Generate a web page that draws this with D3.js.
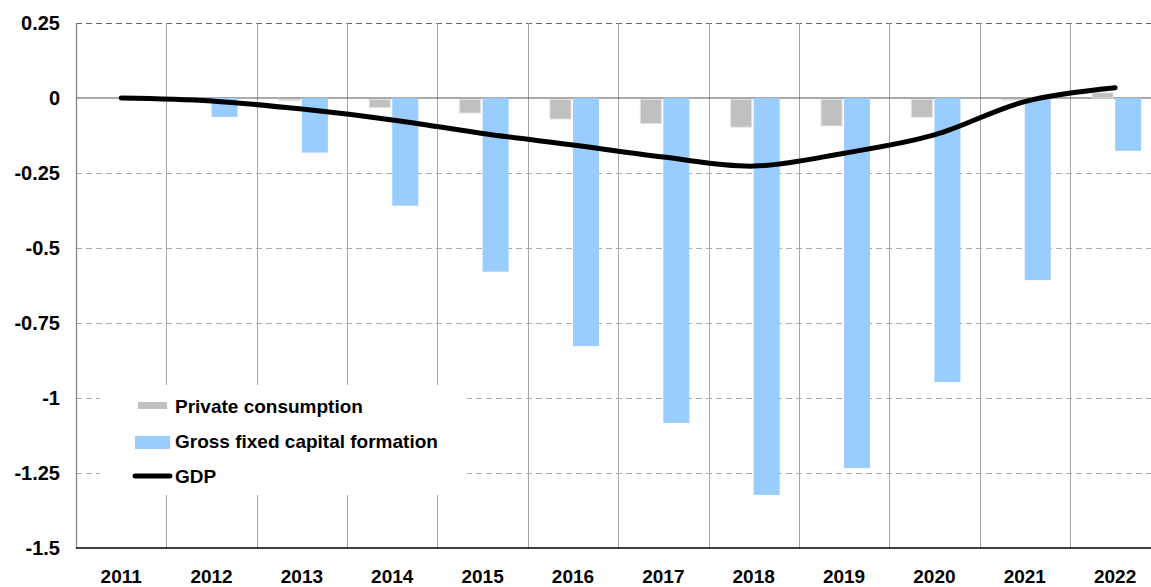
<!DOCTYPE html>
<html>
<head>
<meta charset="utf-8">
<script src="https://cdn.jsdelivr.net/npm/d3@7"></script>
<style>
  body { margin: 0; background: #fff; }
  svg { display: block; font-family: "Liberation Sans", Arial, sans-serif; font-weight: bold; }
</style>
</head>
<body>
<svg id="chart" width="1151" height="587"></svg>
<script>
// values
var years = ["2011", "2012", "2013", "2014", "2015", "2016", "2017", "2018", "2019", "2020", "2021", "2022"];
var privateCons = [0, -0.001, -0.004, -0.027, -0.045, -0.065, -0.08, -0.092, -0.088, -0.059, -0.002, 0.017];
var gfcf = [0, -0.063, -0.182, -0.359, -0.579, -0.827, -1.083, -1.323, -1.233, -0.947, -0.607, -0.176];
var gdp = [0, -0.01, -0.037, -0.073, -0.118, -0.157, -0.197, -0.227, -0.184, -0.123, -0.012, 0.034];
var yTicks = [0.25, 0, -0.25, -0.5, -0.75, -1, -1.25, -1.5];
var yTickLabels = ["0.25", "0", "-0.25", "-0.5", "-0.75", "-1", "-1.25", "-1.5"];

var svg = d3.select("#chart");
var plotLeft = 76, plotTop = 23, plotBottom = 548, plotRight = 1151;
var bw = 90.36;

var x = d3.scaleBand().domain(years).range([plotLeft, plotLeft + bw * years.length]).padding(0);
var y = d3.scaleLinear().domain([-1.5, 0.25]).range([plotBottom, plotTop]);
var cx = function (d) { return x(d) + x.bandwidth() / 2; };

// horizontal gridlines (dashed)
svg.append("g").selectAll("line")
    .data(yTicks.filter(function (t) { return t != 0 && t != -1.5; }))
    .enter().append("line")
    .attr("x1", plotLeft).attr("x2", plotRight)
    .attr("y1", function (d) { return Math.round(y(d)) + 0.5; })
    .attr("y2", function (d) { return Math.round(y(d)) + 0.5; })
    .attr("stroke", function (d) { return d == 0.25 ? "#666" : "#aaa"; })
    .attr("stroke-width", 1)
    .attr("stroke-dasharray", "6,4");

// vertical gridlines between years
svg.append("g").selectAll("line")
    .data(years.slice(1))
    .enter().append("line")
    .attr("x1", function (d) { return Math.round(x(d)) + 0.5; })
    .attr("x2", function (d) { return Math.round(x(d)) + 0.5; })
    .attr("y1", plotTop).attr("y2", plotBottom)
    .attr("stroke", "#a6a6a6").attr("stroke-width", 1);

// left axis line
svg.append("line").attr("x1", plotLeft + 0.5).attr("x2", plotLeft + 0.5).attr("y1", plotTop).attr("y2", plotBottom)
    .attr("stroke", "#808080").attr("stroke-width", 1.2);

// zero line
svg.append("line").attr("x1", plotLeft).attr("x2", plotRight).attr("y1", y(0)).attr("y2", y(0))
    .attr("stroke", "#555").attr("stroke-width", 1.2);

// bottom axis
svg.append("line").attr("x1", plotLeft).attr("x2", plotRight).attr("y1", y(-1.5)).attr("y2", y(-1.5))
    .attr("stroke", "#000").attr("stroke-width", 1.5);

// legend box hides the grid behind it
svg.append("rect").attr("x", 100).attr("y", 385).attr("width", 367).attr("height", 110).attr("fill", "#fff");

// private consumption bars
svg.append("g").selectAll("rect")
    .data(years)
    .enter().append("rect")
    .attr("x", function (d) { return cx(d) - 23; })
    .attr("width", 21)
    .attr("y", function (d, i) { return y(Math.max(0, privateCons[i])) + (privateCons[i] < 0 ? 1.5 : 0); })
    .attr("height", function (d, i) { return Math.abs(y(privateCons[i]) - y(0)); })
    .attr("fill", "#c0c0c0")
    .attr("stroke", "#e0e0e0").attr("stroke-width", 1);

// gross fixed capital formation bars
svg.append("g").selectAll("rect")
    .data(years)
    .enter().append("rect")
    .attr("x", function (d) { return cx(d); })
    .attr("width", 26)
    .attr("y", function (d, i) { return y(Math.max(0, gfcf[i])); })
    .attr("height", function (d, i) { return Math.abs(y(gfcf[i]) - y(0)); })
    .attr("fill", "#99ccff");

// GDP line
var line = d3.line()
    .x(function (d, i) { return cx(years[i]); })
    .y(function (d) { return y(d); })
    .curve(d3.curveCatmullRom.alpha(0.5));

svg.append("path").datum(gdp)
    .attr("d", line)
    .attr("fill", "none")
    .attr("stroke", "#000")
    .attr("stroke-width", 5)
    .attr("stroke-linecap", "round");

// y tick labels
svg.append("g").selectAll("text")
    .data(yTicks)
    .enter().append("text")
    .attr("x", 60)
    .attr("y", function (d) { return y(d); })
    .attr("dy", "0.36em")
    .attr("text-anchor", "end")
    .attr("font-size", 20)
    .text(function (d, i) { return yTickLabels[i]; });

// x labels
svg.append("g").selectAll("text")
    .data(years)
    .enter().append("text")
    .attr("x", cx)
    .attr("y", 583)
    .attr("text-anchor", "middle")
    .attr("font-size", 19)
    .text(function (d) { return d; });

// legend
var lg = svg.append("g");
lg.append("rect").attr("x", 138).attr("y", 402).attr("width", 29).attr("height", 7).attr("fill", "#c0c0c0");
lg.append("text").attr("x", 175).attr("y", 413).attr("font-size", 19).text("Private consumption");
lg.append("rect").attr("x", 135).attr("y", 436).attr("width", 35).attr("height", 13).attr("fill", "#99ccff");
lg.append("text").attr("x", 175).attr("y", 448).attr("font-size", 19).text("Gross fixed capital formation");
lg.append("line").attr("x1", 135).attr("x2", 170).attr("y1", 476).attr("y2", 476)
    .attr("stroke", "#000").attr("stroke-width", 5).attr("stroke-linecap", "round");
lg.append("text").attr("x", 175).attr("y", 483).attr("font-size", 19).text("GDP");
</script>
</body>
</html>
